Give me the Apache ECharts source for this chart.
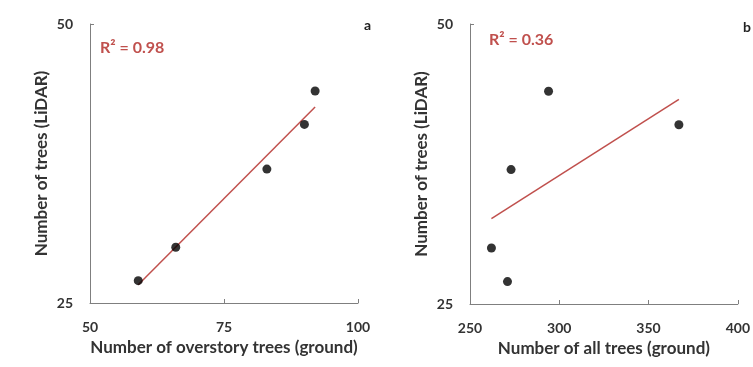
<!DOCTYPE html>
<html>
<head>
<meta charset="utf-8">
<script src="https://cdn.jsdelivr.net/npm/echarts@6/dist/echarts.min.js"></script>
<style>
  html, body { margin: 0; padding: 0; background: #fff; }
  #chart { width: 753px; height: 367px; }
</style>
</head>
<body>
<div id="chart"></div>
<script>
// Tree counts per plot: LiDAR detections vs. ground survey
const lidarTrees = [27, 30, 37, 41, 44];
const overstoryTrees = [59, 66, 83, 90, 92];
const allTreesLidar = [30, 27, 37, 44, 41];
const allTrees = [262, 271, 273, 294, 367];

const yTicks = { min: 25, max: 50, interval: 25 };
const xTicksA = { min: 50, max: 100, interval: 25 };
const xTicksB = { min: 250, max: 400, interval: 50 };

const panelLabels = ['a', 'b'];
const xNames = ['Number of overstory trees (ground)', 'Number of all trees (ground)'];
const yName = 'Number of trees (LiDAR)';

// Least-squares fit with R²
function fit(xs, ys) {
  const n = xs.length;
  const mx = xs.reduce((a, b) => a + b, 0) / n;
  const my = ys.reduce((a, b) => a + b, 0) / n;
  let sxy = 0, sxx = 0, syy = 0;
  for (let i = 0; i < n; i++) {
    sxy += (xs[i] - mx) * (ys[i] - my);
    sxx += (xs[i] - mx) ** 2;
    syy += (ys[i] - my) ** 2;
  }
  const slope = sxy / sxx;
  const icpt = my - slope * mx;
  const x0 = Math.min(...xs), x1 = Math.max(...xs);
  return {
    line: [[x0, icpt + slope * x0], [x1, icpt + slope * x1]],
    r2: (sxy * sxy) / (sxx * syy)
  };
}

const fitA = fit(overstoryTrees, lidarTrees);
const fitB = fit(allTrees, allTreesLidar);

const FONT = 'Lato';
const axisGrey = '#7f7f7f';
const textColor = '#333';
const red = '#c0504d';

function xAxis(idx, ticks, name) {
  return {
    type: 'value', gridIndex: idx,
    min: ticks.min, max: ticks.max, interval: ticks.interval,
    name: name, nameLocation: 'middle', nameGap: 36,
    nameTextStyle: { fontFamily: FONT, fontWeight: 'bold', fontSize: 17, color: textColor },
    axisLine: { show: true, lineStyle: { color: axisGrey, width: 1 } },
    axisTick: { show: true, inside: true, length: 4, lineStyle: { color: axisGrey } },
    axisLabel: { fontFamily: FONT, fontWeight: 'bold', fontSize: 14, color: textColor, margin: 17 },
    splitLine: { show: false }
  };
}
function yAxis(idx) {
  return {
    type: 'value', gridIndex: idx,
    min: yTicks.min, max: yTicks.max, interval: yTicks.interval,
    name: yName, nameLocation: 'middle', nameGap: 40,
    nameTextStyle: { fontFamily: FONT, fontWeight: 'bold', fontSize: 17, color: textColor },
    axisLine: { show: true, lineStyle: { color: axisGrey, width: 1 } },
    axisTick: { show: true, inside: true, length: 4, lineStyle: { color: axisGrey } },
    axisLabel: { fontFamily: FONT, fontWeight: 'bold', fontSize: 14, color: textColor, margin: 17 },
    splitLine: { show: false }
  };
}

const chart = echarts.init(document.getElementById('chart'), null, { renderer: 'canvas' });
chart.setOption({
  animation: false,
  backgroundColor: '#fff',
  grid: [
    { left: 90, top: 24, width: 268, height: 279 },
    { left: 470, top: 24, width: 268, height: 280 }
  ],
  xAxis: [xAxis(0, xTicksA, xNames[0]), xAxis(1, xTicksB, xNames[1])],
  yAxis: [yAxis(0), yAxis(1)],
  title: [
    { text: 'R² = ' + fitA.r2.toFixed(2), left: 95, top: 35,
      textStyle: { fontFamily: FONT, fontWeight: 'bold', fontSize: 16, color: red } },
    { text: 'R² = ' + fitB.r2.toFixed(2), left: 484, top: 27,
      textStyle: { fontFamily: FONT, fontWeight: 'bold', fontSize: 16, color: red } },
    { text: panelLabels[0], left: 359, top: 13,
      textStyle: { fontFamily: FONT, fontWeight: 'bold', fontSize: 14, color: '#222' } },
    { text: panelLabels[1], left: 738, top: 15,
      textStyle: { fontFamily: FONT, fontWeight: 'bold', fontSize: 14, color: '#222' } }
  ],
  series: [
    { type: 'line', xAxisIndex: 0, yAxisIndex: 0, data: fitA.line, symbol: 'none',
      lineStyle: { color: red, width: 1.5 }, z: 1 },
    { type: 'scatter', xAxisIndex: 0, yAxisIndex: 0, symbolSize: 9,
      itemStyle: { color: '#000' },
      data: overstoryTrees.map((x, i) => [x, lidarTrees[i]]), z: 2 },
    { type: 'line', xAxisIndex: 1, yAxisIndex: 1, data: fitB.line, symbol: 'none',
      lineStyle: { color: red, width: 1.5 }, z: 1 },
    { type: 'scatter', xAxisIndex: 1, yAxisIndex: 1, symbolSize: 9,
      itemStyle: { color: '#000' },
      data: allTrees.map((x, i) => [x, allTreesLidar[i]]), z: 2 }
  ]
});
</script>
</body>
</html>
